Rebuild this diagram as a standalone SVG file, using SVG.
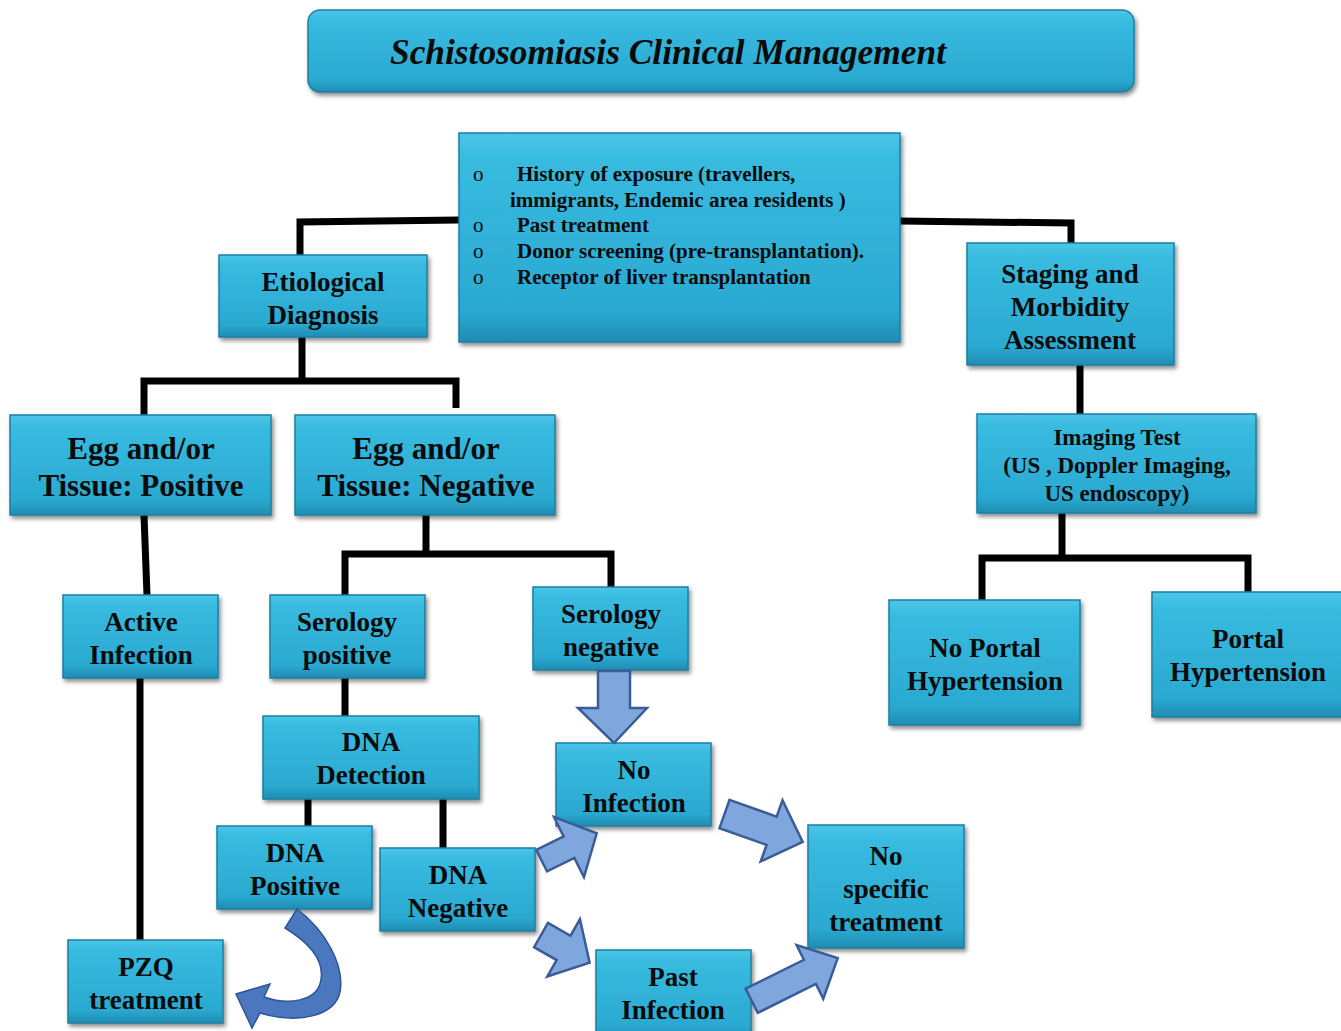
<svg xmlns="http://www.w3.org/2000/svg" width="1341" height="1031" viewBox="0 0 1341 1031">
<defs>
<linearGradient id="g" x1="0" y1="0" x2="0" y2="1">
<stop offset="0" stop-color="#4cc6e8"/>
<stop offset="0.12" stop-color="#38bbe0"/>
<stop offset="0.85" stop-color="#2aa9d1"/>
<stop offset="1" stop-color="#1f8cb2"/>
</linearGradient>
<filter id="sh" x="-10%" y="-10%" width="125%" height="130%">
<feDropShadow dx="2" dy="3" stdDeviation="2" flood-color="#000" flood-opacity="0.45"/>
</filter>
</defs>
<style>
.box{fill:url(#g);stroke:#1c7fa2;stroke-width:1.5;filter:url(#sh)}
.t{font-family:"Liberation Serif","Times New Roman",serif;font-weight:bold;fill:#0b0b0b;text-anchor:middle}
.l{font-family:"Liberation Serif","Times New Roman",serif;font-weight:bold;fill:#0b0b0b;font-size:21px}
.b{font-family:"Liberation Serif","Times New Roman",serif;font-weight:normal;fill:#0b0b0b;font-size:21px}
.c{fill:none;stroke:#000;stroke-width:7;stroke-linejoin:miter}
.ba{fill:#80a7dd;stroke:#3a5c98;stroke-width:2.5;stroke-linejoin:miter}
</style>
<rect width="1341" height="1031" fill="#fff"/>

<g id="connectors">
<polyline class="c" points="459,220 300,222 300,255"/>
<polyline class="c" points="900,221 1071,223 1071,243"/>
<line class="c" x1="302" y1="337" x2="302" y2="381"/>
<polyline class="c" points="144,415 144,381 456,381 456,408"/>
<line class="c" x1="144" y1="515" x2="147" y2="595"/>
<line class="c" x1="426" y1="515" x2="426" y2="554"/>
<polyline class="c" points="345,595 345,554 611,554 611,587"/>
<line class="c" x1="140" y1="678" x2="140" y2="940"/>
<line class="c" x1="345" y1="678" x2="345" y2="716"/>
<line class="c" x1="308" y1="799" x2="308" y2="826"/>
<line class="c" x1="443" y1="799" x2="443" y2="848"/>
<line class="c" x1="1080" y1="365" x2="1080" y2="414"/>
<line class="c" x1="1062" y1="513" x2="1062" y2="558"/>
<polyline class="c" points="982,600 982,558 1248,558 1248,592"/>
</g>

<g id="title">
<rect class="box" x="308" y="10" width="826" height="82" rx="12"/>
<text x="390" y="64" font-family="'Liberation Serif','Times New Roman',serif" font-weight="bold" font-style="italic" font-size="36" fill="#0b0b0b" textLength="556" lengthAdjust="spacingAndGlyphs">Schistosomiasis Clinical Management</text>
</g>

<g id="criteria">
<rect class="box" x="459" y="133" width="441" height="209"/>
<text class="b" x="473" y="181">o</text>
<text class="l" x="517" y="181">History  of exposure (travellers,</text>
<text class="l" x="510" y="207">immigrants, Endemic area residents )</text>
<text class="b" x="473" y="232">o</text>
<text class="l" x="517" y="232">Past treatment</text>
<text class="b" x="473" y="258">o</text>
<text class="l" x="517" y="258">Donor screening (pre-transplantation).</text>
<text class="b" x="473" y="284">o</text>
<text class="l" x="517" y="284">Receptor of liver transplantation</text>
</g>

<g id="etiological">
<rect class="box" x="219" y="255" width="208" height="82"/>
<text class="t" font-size="27" x="323" y="291">Etiological</text>
<text class="t" font-size="27" x="323" y="324">Diagnosis</text>
</g>

<g id="staging">
<rect class="box" x="967" y="243" width="207" height="122"/>
<text class="t" font-size="27" x="1070" y="283">Staging and</text>
<text class="t" font-size="27" x="1070" y="316">Morbidity</text>
<text class="t" font-size="27" x="1070" y="349">Assessment</text>
</g>

<g id="egg-positive">
<rect class="box" x="10" y="415" width="261" height="100"/>
<text class="t" font-size="31" x="141" y="459">Egg and/or</text>
<text class="t" font-size="31" x="141" y="496">Tissue: Positive</text>
</g>

<g id="egg-negative">
<rect class="box" x="295" y="415" width="260" height="100"/>
<text class="t" font-size="31" x="426" y="459">Egg and/or</text>
<text class="t" font-size="31" x="426" y="496">Tissue: Negative</text>
</g>

<g id="imaging">
<rect class="box" x="977" y="414" width="279" height="99"/>
<text class="t" font-size="23" x="1117" y="445">Imaging Test</text>
<text class="t" font-size="23" x="1117" y="473">(US , Doppler Imaging,</text>
<text class="t" font-size="23" x="1117" y="501">US endoscopy)</text>
</g>

<g id="active-infection">
<rect class="box" x="63" y="595" width="155" height="83"/>
<text class="t" font-size="27" x="141" y="631">Active</text>
<text class="t" font-size="27" x="141" y="664">Infection</text>
</g>

<g id="serology-positive">
<rect class="box" x="270" y="595" width="155" height="83"/>
<text class="t" font-size="27" x="347" y="631">Serology</text>
<text class="t" font-size="27" x="347" y="664">positive</text>
</g>

<g id="serology-negative">
<rect class="box" x="533" y="587" width="155" height="83"/>
<text class="t" font-size="27" x="611" y="623">Serology</text>
<text class="t" font-size="27" x="611" y="656">negative</text>
</g>

<g id="no-portal">
<rect class="box" x="889" y="600" width="191" height="125"/>
<text class="t" font-size="27" x="985" y="657">No Portal</text>
<text class="t" font-size="27" x="985" y="690">Hypertension</text>
</g>

<g id="portal">
<rect class="box" x="1152" y="592" width="192" height="125"/>
<text class="t" font-size="27" x="1248" y="648">Portal</text>
<text class="t" font-size="27" x="1248" y="681">Hypertension</text>
</g>

<g id="dna-detection">
<rect class="box" x="263" y="716" width="216" height="83"/>
<text class="t" font-size="27" x="371" y="751">DNA</text>
<text class="t" font-size="27" x="371" y="784">Detection</text>
</g>

<g id="no-infection">
<rect class="box" x="556" y="743" width="155" height="83"/>
<text class="t" font-size="27" x="634" y="779">No</text>
<text class="t" font-size="27" x="634" y="812">Infection</text>
</g>

<g id="dna-positive">
<rect class="box" x="217" y="826" width="155" height="83"/>
<text class="t" font-size="27" x="295" y="862">DNA</text>
<text class="t" font-size="27" x="295" y="895">Positive</text>
</g>

<g id="dna-negative">
<rect class="box" x="380" y="848" width="155" height="83"/>
<text class="t" font-size="27" x="458" y="884">DNA</text>
<text class="t" font-size="27" x="458" y="917">Negative</text>
</g>

<g id="no-specific">
<rect class="box" x="808" y="825" width="156" height="123"/>
<text class="t" font-size="27" x="886" y="865">No</text>
<text class="t" font-size="27" x="886" y="898">specific</text>
<text class="t" font-size="27" x="886" y="931">treatment</text>
</g>

<g id="pzq">
<rect class="box" x="68" y="940" width="155" height="83"/>
<text class="t" font-size="27" x="146" y="976">PZQ</text>
<text class="t" font-size="27" x="146" y="1009">treatment</text>
</g>

<g id="past-infection">
<rect class="box" x="596" y="950" width="155" height="90"/>
<text class="t" font-size="27" x="673" y="986">Past</text>
<text class="t" font-size="27" x="673" y="1019">Infection</text>
</g>

<g id="block-arrows">
<polygon class="ba" points="598,671 630,671 630,708 647,708 614,743 578,708 598,708"/>
<polygon class="ba" transform="translate(541.7,860.7) rotate(-26.5)" points="0,-12 30.5,-12 30.5,-33.5 61.5,0 30.5,33.5 30.5,12 0,12"/>
<polygon class="ba" transform="translate(724.5,814) rotate(19.6)" points="0,-15 50,-15 50,-32.5 83,0 50,32.5 50,15 0,15"/>
<polygon class="ba" transform="translate(541,935) rotate(29.7)" points="0,-14 26,-14 26,-33 56,0 26,33 26,14 0,14"/>
<polygon class="ba" transform="translate(751.7,1000.8) rotate(-26.4)" points="0,-13.5 65,-13.5 65,-30 96,0 65,30 65,13.5 0,13.5"/>
<path d="M297,909 C325,930 345,965 340,992 C335,1015 300,1025 260,1013 L252,1028 L236,994 L270,984 L264,997 C290,1006 315,1000 320,984 C326,964 313,945 285,928 Z" fill="#4a77be" stroke="#2e5596" stroke-width="1.5"/>
</g>
</svg>
